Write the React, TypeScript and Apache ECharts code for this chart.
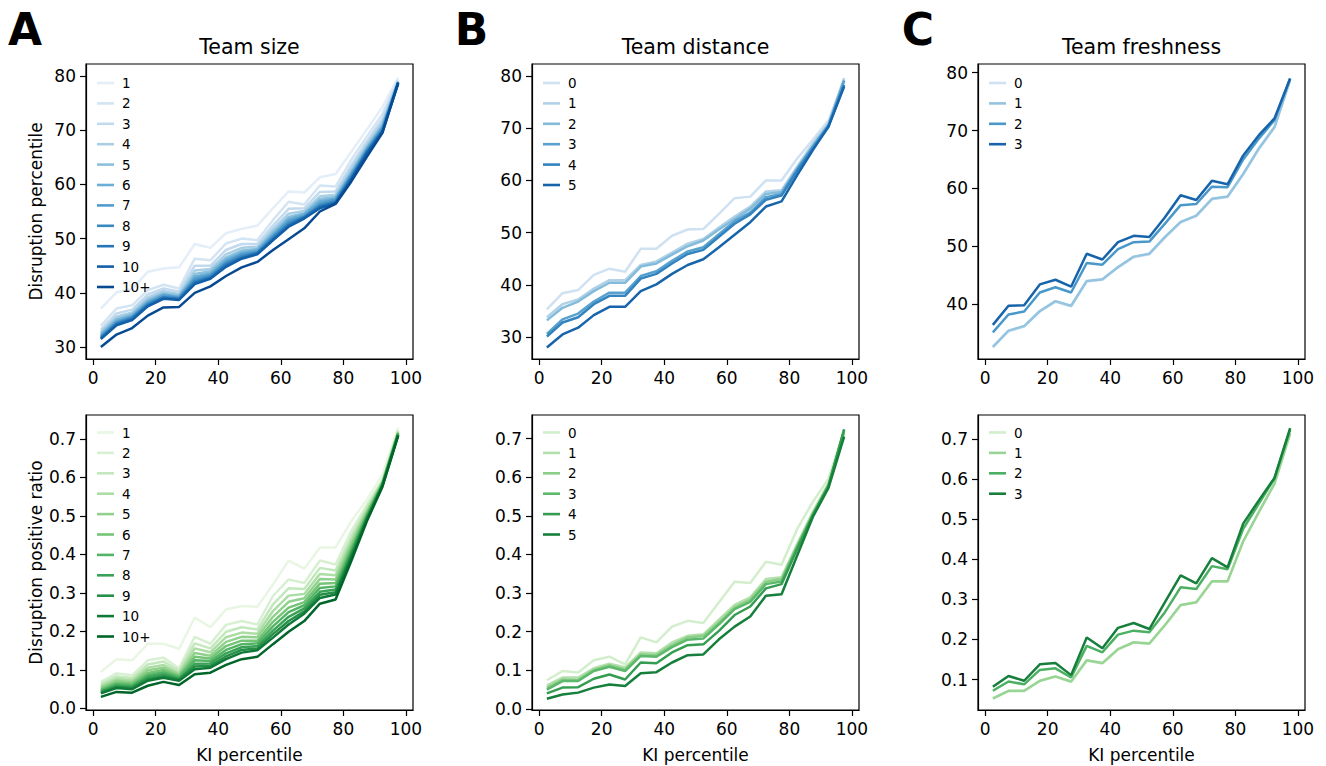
import React, { useEffect, useRef } from "react";
import * as echarts from "echarts";

// ---------- data ----------
const kiPercentile = [2.5, 7.5, 12.5, 17.5, 22.5, 27.5, 32.5, 37.5, 42.5, 47.5, 52.5, 57.5, 62.5, 67.5, 72.5, 77.5, 82.5, 87.5, 92.5, 97.5];
const xTickValues = [0, 20, 40, 60, 80, 100];

const sizeLabels = ["1", "2", "3", "4", "5", "6", "7", "8", "9", "10", "10+"];
const distanceLabels = ["0", "1", "2", "3", "4", "5"];
const freshnessLabels = ["0", "1", "2", "3"];

// Team size – disruption percentile
const sizePct1 = [37.1, 40.1, 40.7, 43.9, 44.5, 44.7, 49.0, 48.3, 51.0, 51.8, 52.4, 55.6, 58.7, 58.5, 61.3, 61.9, 66.0, 70.1, 74.3, 79.7];
const sizePct2 = [33.9, 37.1, 37.7, 40.5, 41.5, 40.8, 46.3, 46.0, 49.1, 50.0, 49.7, 53.4, 56.8, 56.3, 59.8, 59.6, 64.5, 68.8, 73.0, 79.3];
const sizePct3 = [33.2, 36.2, 36.9, 39.7, 40.8, 40.2, 45.0, 45.0, 47.9, 49.0, 49.0, 52.4, 55.5, 55.6, 58.6, 58.7, 63.5, 67.9, 72.1, 79.1];
const sizePct4 = [32.8, 35.6, 36.4, 39.1, 40.3, 39.8, 44.1, 44.4, 47.1, 48.3, 48.5, 51.7, 54.6, 55.1, 57.8, 58.1, 62.8, 67.3, 71.4, 79.0];
const sizePct5 = [32.5, 35.2, 36.1, 38.7, 39.9, 39.5, 43.5, 44.0, 46.5, 47.8, 48.1, 51.2, 54.0, 54.7, 57.3, 57.7, 62.3, 66.9, 71.0, 78.9];
const sizePct6 = [32.2, 34.9, 35.8, 38.4, 39.7, 39.3, 43.0, 43.6, 46.1, 47.4, 47.9, 50.8, 53.6, 54.5, 56.9, 57.4, 62.0, 66.6, 70.7, 78.8];
const sizePct7 = [32.0, 34.6, 35.6, 38.1, 39.5, 39.1, 42.6, 43.3, 45.7, 47.1, 47.6, 50.5, 53.2, 54.2, 56.5, 57.2, 61.7, 66.4, 70.4, 78.7];
const sizePct8 = [31.8, 34.4, 35.4, 37.9, 39.2, 39.0, 42.2, 43.0, 45.4, 46.8, 47.4, 50.2, 52.8, 54.0, 56.1, 56.9, 61.4, 66.1, 70.1, 78.7];
const sizePct9 = [31.6, 34.2, 35.2, 37.7, 39.1, 38.8, 41.9, 42.8, 45.1, 46.5, 47.3, 49.9, 52.5, 53.9, 55.9, 56.7, 61.1, 65.9, 69.9, 78.6];
const sizePct10 = [31.5, 34.0, 35.0, 37.5, 38.9, 38.7, 41.6, 42.6, 44.8, 46.3, 47.1, 49.7, 52.2, 53.7, 55.6, 56.5, 60.9, 65.7, 69.7, 78.6];
const sizePct10p = [30.0, 32.3, 33.5, 35.8, 37.3, 37.4, 40.0, 41.2, 43.1, 44.7, 45.7, 47.9, 49.9, 51.9, 55.0, 56.4, 60.5, 65.1, 69.5, 78.8];

// Team distance – disruption percentile
const distPct0 = [35.3, 38.4, 39.0, 41.9, 43.1, 42.5, 46.9, 46.9, 49.4, 50.6, 50.7, 53.6, 56.6, 56.9, 60.0, 60.0, 64.2, 67.8, 71.5, 79.3];
const distPct1 = [33.8, 36.3, 37.2, 39.3, 40.9, 40.9, 43.8, 44.5, 46.2, 47.9, 48.8, 51.0, 53.1, 55.0, 57.9, 58.1, 62.7, 67.1, 70.9, 79.6];
const distPct2 = [33.2, 35.6, 36.8, 38.8, 40.4, 40.4, 43.5, 44.1, 45.8, 47.4, 48.5, 50.6, 52.6, 54.6, 57.4, 57.8, 62.2, 66.5, 70.6, 79.1];
const distPct3 = [30.6, 33.4, 34.5, 36.8, 38.5, 38.5, 41.7, 42.6, 44.6, 46.4, 47.2, 49.7, 52.2, 53.9, 56.8, 57.4, 62.2, 66.5, 70.6, 79.1];
const distPct4 = [30.1, 32.8, 33.8, 36.3, 37.9, 37.9, 41.2, 42.1, 44.1, 45.9, 46.7, 49.2, 51.7, 53.5, 56.3, 57.1, 61.8, 66.1, 70.3, 78.3];
const distPct5 = [28.0, 30.5, 31.8, 34.2, 35.8, 35.8, 38.8, 40.1, 42.1, 43.8, 44.9, 47.2, 49.6, 52.0, 55.0, 56.0, 61.0, 65.8, 70.3, 78.0];

// Team freshness – disruption percentile
const freshPct0 = [32.5, 35.3, 36.1, 38.7, 40.4, 39.6, 43.9, 44.2, 46.3, 48.1, 48.6, 51.5, 54.1, 55.2, 58.1, 58.5, 62.4, 66.8, 70.5, 78.8];
const freshPct1 = [32.6, 35.4, 36.2, 38.8, 40.5, 39.7, 44.0, 44.3, 46.4, 48.2, 48.7, 51.6, 54.2, 55.3, 58.2, 58.6, 62.5, 66.9, 70.6, 78.7];
const freshPct2 = [35.1, 38.2, 38.7, 42.0, 42.9, 42.0, 47.1, 46.8, 49.5, 50.7, 50.8, 53.9, 57.1, 57.3, 60.3, 60.2, 65.0, 68.6, 71.8, 79.0];
const freshPct3 = [36.4, 39.7, 39.8, 43.4, 44.2, 43.0, 48.7, 47.7, 50.7, 51.8, 51.6, 55.0, 58.8, 58.0, 61.3, 60.7, 65.7, 69.2, 72.1, 79.0];

// Team size – disruption positive ratio
const sizeRatio1 = [0.095, 0.128, 0.125, 0.168, 0.168, 0.155, 0.236, 0.211, 0.257, 0.266, 0.264, 0.322, 0.384, 0.363, 0.418, 0.418, 0.486, 0.542, 0.607, 0.729];
const sizeRatio2 = [0.069, 0.091, 0.086, 0.125, 0.132, 0.104, 0.186, 0.168, 0.217, 0.227, 0.218, 0.292, 0.335, 0.326, 0.384, 0.374, 0.460, 0.529, 0.594, 0.723];
const sizeRatio3 = [0.063, 0.083, 0.079, 0.114, 0.122, 0.098, 0.169, 0.156, 0.199, 0.211, 0.205, 0.270, 0.312, 0.310, 0.365, 0.358, 0.446, 0.521, 0.591, 0.720];
const sizeRatio4 = [0.058, 0.077, 0.073, 0.106, 0.113, 0.092, 0.156, 0.146, 0.185, 0.197, 0.194, 0.253, 0.293, 0.297, 0.349, 0.346, 0.435, 0.515, 0.589, 0.718];
const sizeRatio5 = [0.054, 0.072, 0.068, 0.099, 0.106, 0.088, 0.144, 0.137, 0.173, 0.186, 0.185, 0.238, 0.277, 0.286, 0.336, 0.335, 0.426, 0.510, 0.587, 0.717];
const sizeRatio6 = [0.050, 0.067, 0.064, 0.092, 0.100, 0.084, 0.134, 0.130, 0.162, 0.176, 0.176, 0.225, 0.262, 0.276, 0.324, 0.326, 0.417, 0.505, 0.585, 0.715];
const sizeRatio7 = [0.047, 0.063, 0.060, 0.086, 0.094, 0.081, 0.125, 0.123, 0.152, 0.167, 0.169, 0.213, 0.250, 0.268, 0.313, 0.317, 0.410, 0.501, 0.583, 0.714];
const sizeRatio8 = [0.044, 0.059, 0.056, 0.081, 0.089, 0.077, 0.116, 0.117, 0.143, 0.159, 0.162, 0.202, 0.238, 0.260, 0.303, 0.309, 0.403, 0.497, 0.582, 0.712];
const sizeRatio9 = [0.041, 0.056, 0.053, 0.076, 0.084, 0.075, 0.109, 0.111, 0.135, 0.152, 0.156, 0.193, 0.227, 0.252, 0.295, 0.302, 0.397, 0.493, 0.580, 0.711];
const sizeRatio10 = [0.039, 0.053, 0.050, 0.072, 0.080, 0.072, 0.102, 0.106, 0.128, 0.145, 0.151, 0.184, 0.218, 0.246, 0.287, 0.296, 0.391, 0.490, 0.579, 0.710];
const sizeRatio10p = [0.030, 0.043, 0.041, 0.059, 0.069, 0.061, 0.089, 0.093, 0.113, 0.128, 0.134, 0.167, 0.199, 0.227, 0.272, 0.283, 0.382, 0.486, 0.576, 0.708];

// Team distance – disruption positive ratio
const distRatio0 = [0.074, 0.098, 0.094, 0.126, 0.135, 0.115, 0.185, 0.172, 0.213, 0.228, 0.222, 0.276, 0.329, 0.326, 0.381, 0.373, 0.466, 0.536, 0.596, 0.722];
const distRatio1 = [0.061, 0.081, 0.081, 0.105, 0.117, 0.107, 0.146, 0.144, 0.172, 0.189, 0.193, 0.231, 0.269, 0.289, 0.336, 0.341, 0.427, 0.510, 0.583, 0.713];
const distRatio2 = [0.055, 0.076, 0.075, 0.101, 0.113, 0.102, 0.141, 0.139, 0.165, 0.185, 0.189, 0.224, 0.263, 0.283, 0.329, 0.336, 0.423, 0.505, 0.581, 0.717];
const distRatio3 = [0.050, 0.072, 0.072, 0.098, 0.109, 0.098, 0.137, 0.135, 0.160, 0.179, 0.182, 0.219, 0.258, 0.277, 0.323, 0.330, 0.419, 0.503, 0.579, 0.722];
const distRatio4 = [0.040, 0.055, 0.056, 0.078, 0.089, 0.076, 0.120, 0.118, 0.146, 0.165, 0.167, 0.202, 0.243, 0.265, 0.312, 0.323, 0.414, 0.501, 0.577, 0.724];
const distRatio5 = [0.026, 0.037, 0.042, 0.055, 0.063, 0.059, 0.092, 0.095, 0.120, 0.139, 0.141, 0.180, 0.213, 0.239, 0.293, 0.297, 0.397, 0.497, 0.572, 0.705];

// Team freshness – disruption positive ratio
const freshRatio0 = [0.052, 0.071, 0.071, 0.096, 0.107, 0.094, 0.147, 0.140, 0.175, 0.192, 0.189, 0.235, 0.285, 0.292, 0.344, 0.344, 0.444, 0.517, 0.588, 0.713];
const freshRatio1 = [0.053, 0.072, 0.072, 0.097, 0.108, 0.095, 0.148, 0.141, 0.176, 0.193, 0.190, 0.236, 0.286, 0.293, 0.345, 0.345, 0.445, 0.518, 0.589, 0.714];
const freshRatio2 = [0.072, 0.095, 0.088, 0.124, 0.128, 0.105, 0.184, 0.168, 0.212, 0.222, 0.218, 0.268, 0.330, 0.326, 0.383, 0.375, 0.476, 0.539, 0.602, 0.723];
const freshRatio3 = [0.082, 0.109, 0.097, 0.138, 0.141, 0.111, 0.205, 0.178, 0.229, 0.241, 0.226, 0.293, 0.360, 0.340, 0.403, 0.380, 0.489, 0.547, 0.603, 0.727];

const pctTicks = [30, 40, 50, 60, 70, 80];
const pctTicksC = [40, 50, 60, 70, 80];
const ratioTicks = [0, 0.1, 0.2, 0.3, 0.4, 0.5, 0.6, 0.7];
const ratioTicksC = [0.1, 0.2, 0.3, 0.4, 0.5, 0.6, 0.7];

const panelTitles = ["Team size", "Team distance", "Team freshness"];
const panelLetters = ["A", "B", "C"];

// ---------- styles ----------
const FONT = "DejaVu Sans";
const BLUES = [[247, 251, 255], [222, 235, 247], [198, 219, 239], [158, 202, 225], [107, 174, 214], [66, 146, 198], [33, 113, 181], [8, 81, 156], [8, 48, 107]];
const GREENS = [[247, 252, 245], [229, 245, 224], [199, 233, 192], [161, 217, 155], [116, 196, 118], [65, 171, 93], [35, 139, 69], [0, 109, 44], [0, 68, 27]];
function cmap(stops: number[][], t: number): string {
  const s = t * 8;
  const i = Math.min(7, Math.floor(s));
  const f = s - i;
  const c = stops[i].map((v, j) => Math.round(v + (stops[i + 1][j] - v) * f));
  return `rgb(${c.join(",")})`;
}

const colLeft = [86, 532, 978];
const rowTop = [64, 415];
const gridW = 327;
const gridH = 295;

type Panel = {
  key: string; col: number; row: number; labels: string[]; series: number[][];
  stops: number[][]; t0: number; dt: number; yMin: number; yMax: number; yTicks: number[];
  dec: number; yName?: string; xName?: string;
};

const panels: Panel[] = [
  { key: "sp", col: 0, row: 0, labels: sizeLabels, series: [sizePct1, sizePct2, sizePct3, sizePct4, sizePct5, sizePct6, sizePct7, sizePct8, sizePct9, sizePct10, sizePct10p], stops: BLUES, t0: 0.1, dt: 0.08, yMin: 27.8, yMax: 82.2, yTicks: pctTicks, dec: 0, yName: "Disruption percentile" },
  { key: "dp", col: 1, row: 0, labels: distanceLabels, series: [distPct0, distPct1, distPct2, distPct3, distPct4, distPct5], stops: BLUES, t0: 0.2, dt: 0.12, yMin: 25.8, yMax: 82.3, yTicks: pctTicks, dec: 0 },
  { key: "fp", col: 2, row: 0, labels: freshnessLabels, series: [freshPct0, freshPct1, freshPct2, freshPct3], stops: BLUES, t0: 0.2, dt: 0.2, yMin: 30.5, yMax: 81.5, yTicks: pctTicksC, dec: 0 },
  { key: "sr", col: 0, row: 1, labels: sizeLabels, series: [sizeRatio1, sizeRatio2, sizeRatio3, sizeRatio4, sizeRatio5, sizeRatio6, sizeRatio7, sizeRatio8, sizeRatio9, sizeRatio10, sizeRatio10p], stops: GREENS, t0: 0.1, dt: 0.08, yMin: -0.004, yMax: 0.762, yTicks: ratioTicks, dec: 1, yName: "Disruption positive ratio", xName: "KI percentile" },
  { key: "dr", col: 1, row: 1, labels: distanceLabels, series: [distRatio0, distRatio1, distRatio2, distRatio3, distRatio4, distRatio5], stops: GREENS, t0: 0.2, dt: 0.12, yMin: -0.003, yMax: 0.761, yTicks: ratioTicks, dec: 1, xName: "KI percentile" },
  { key: "fr", col: 2, row: 1, labels: freshnessLabels, series: [freshRatio0, freshRatio1, freshRatio2, freshRatio3], stops: GREENS, t0: 0.2, dt: 0.2, yMin: 0.024, yMax: 0.76, yTicks: ratioTicksC, dec: 1, xName: "KI percentile" },
];

const legendSwatchLeft = [97, 543, 989];
const legendFirstRowCenter = [83, 432.5];

function buildOption() {
  const axisStyle = { color: "#000", width: 1.2 };
  const grid = panels.map((p) => ({
    left: colLeft[p.col], top: rowTop[p.row], width: gridW, height: gridH,
    show: true, borderColor: "#000", borderWidth: 1.2, backgroundColor: "transparent",
  }));
  const xAxis = panels.map((p, i) => ({
    type: "value", gridIndex: i, min: -2.25, max: 102.25,
    axisLine: { show: true, onZero: false, lineStyle: axisStyle },
    axisTick: { show: true, length: 6, lineStyle: axisStyle, customValues: xTickValues },
    axisLabel: { customValues: xTickValues, color: "#000", fontSize: 17, fontFamily: FONT, margin: 10 },
    splitLine: { show: false },
    name: p.xName || "", nameLocation: "middle", nameGap: 36,
    nameTextStyle: { color: "#000", fontSize: 17, fontFamily: FONT },
  }));
  const yAxis = panels.map((p, i) => ({
    type: "value", gridIndex: i, min: p.yMin, max: p.yMax,
    axisLine: { show: true, onZero: false, lineStyle: axisStyle },
    axisTick: { show: true, length: 6, lineStyle: axisStyle, customValues: p.yTicks },
    axisLabel: {
      customValues: p.yTicks, color: "#000", fontSize: 17, fontFamily: FONT, margin: 10,
      formatter: (v: number) => v.toFixed(p.dec),
    },
    splitLine: { show: false },
    name: p.yName || "", nameLocation: "middle", nameGap: 42,
    nameTextStyle: { color: "#000", fontSize: 17, fontFamily: FONT },
  }));
  const series: any[] = [];
  const legend: any[] = [];
  panels.forEach((p, i) => {
    const names: string[] = [];
    p.series.forEach((vals, j) => {
      const color = cmap(p.stops, p.t0 + p.dt * j);
      const name = `${p.key}|${p.labels[j]}`;
      names.push(name);
      series.push({
        type: "line", name, xAxisIndex: i, yAxisIndex: i,
        data: kiPercentile.map((x, k) => [x, vals[k]]),
        symbol: "none", showSymbol: false, color,
        lineStyle: { color, width: 2.5 }, itemStyle: { color },
        silent: true, emphasis: { disabled: true },
      });
    });
    legend.push({
      orient: "vertical",
      left: legendSwatchLeft[p.col],
      top: legendFirstRowCenter[p.row] - 7,
      padding: 0,
      data: names,
      icon: "path://M0,0H17V2.6H0Z",
      itemWidth: 17, itemHeight: 14, itemGap: 6.4,
      selectedMode: false,
      formatter: (n: string) => n.split("|")[1],
      textStyle: { color: "#000", fontSize: 13.5, fontFamily: FONT, padding: [0, 0, 0, 3] },
    });
  });
  const graphic: any[] = [];
  const letterX = [25, 471.5, 918];
  panelTitles.forEach((t, c) => {
    graphic.push({
      type: "text", x: colLeft[c] + gridW / 2, y: 46.5,
      style: { text: t, fontSize: 20.5, fontFamily: FONT, fill: "#000", align: "center", verticalAlign: "middle" },
    });
    graphic.push({
      type: "text", x: letterX[c], y: 29,
      style: { text: panelLetters[c], fontSize: 44, fontWeight: "bold", fontFamily: FONT, fill: "#000", align: "center", verticalAlign: "middle" },
    });
  });
  return {
    animation: false,
    backgroundColor: "#fff",
    textStyle: { fontFamily: FONT },
    grid, xAxis, yAxis, series, legend, graphic,
  };
}

export default function App() {
  const ref = useRef<HTMLDivElement>(null);
  useEffect(() => {
    if (!ref.current) return;
    const chart = echarts.init(ref.current, null, { renderer: "svg" });
    chart.setOption(buildOption() as any);
    return () => chart.dispose();
  }, []);
  return <div ref={ref} style={{ position: "absolute", left: 0, top: 0, width: 1326, height: 766 }} />;
}
